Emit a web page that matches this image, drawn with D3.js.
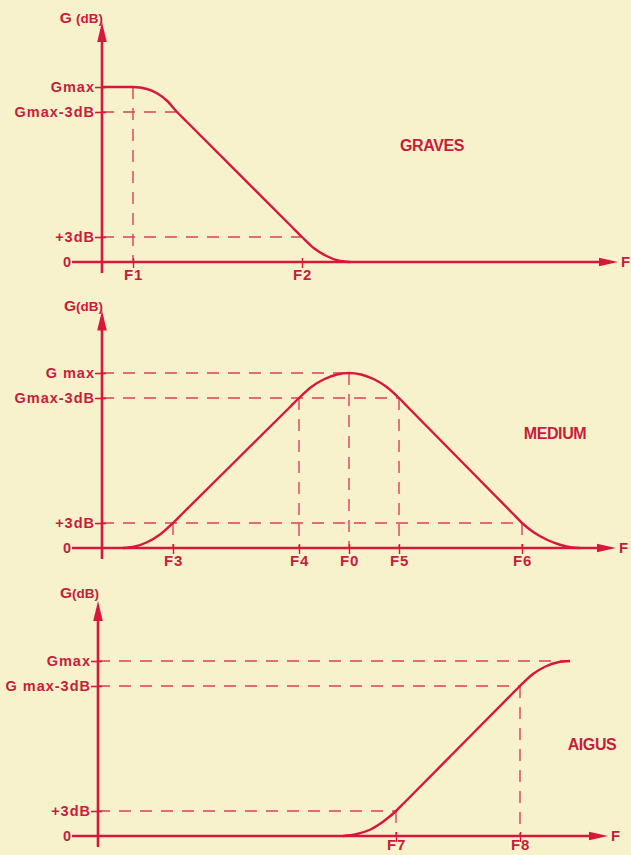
<!DOCTYPE html>
<html>
<head>
<meta charset="utf-8">
<script src="https://cdn.jsdelivr.net/npm/d3@7"></script>
<style>
  html, body { margin: 0; padding: 0; background: #f7f2cb; }
  svg { display: block; }
  text { font-family: "Liberation Sans", Arial, sans-serif; font-weight: bold; fill: #c81c3c; }
</style>
</head>
<body>
<svg id="chart" width="631" height="855"></svg>
<script>
// ---------------- DATA ----------------
// gain levels (schematic units: 0, +3dB, Gmax-3dB, Gmax)
const gainLevels = [0, 1, 6, 7];

const panelNames = ["GRAVES", "MEDIUM", "AIGUS"];

// y tick labels per panel
const gravesGainLabels = ["0", "+3dB", "Gmax-3dB", "Gmax"];
const mediumGainLabels = ["0", "+3dB", "Gmax-3dB", "G max"];
const aigusGainLabels  = ["0", "+3dB", "G max-3dB", "Gmax"];

// frequency ticks (position along F axis) and labels
const gravesFreqLabels = ["F1", "F2"];
const gravesFreqValues = [31, 200];
const gravesFreqGuideFrom = [7, null];      // gain level where vertical dashed guide starts

const mediumFreqLabels = ["F3", "F4", "F0", "F5", "F6"];
const mediumFreqValues = [71, 197, 247, 297, 420];
const mediumFreqGuideFrom = [1, 6, 7, 6, 1];

const aigusFreqLabels = ["F7", "F8"];
const aigusFreqValues = [298, 422];
const aigusFreqGuideFrom = [1, 6];

// horizontal dashed guides: gain level, frequency where it ends
const gravesGuideLevels = [6, 1];
const gravesGuideEnds   = [75, 200];
const mediumGuideLevels = [7, 6, 1];
const mediumGuideEnds   = [247, 297, 420];
const aigusGuideLevels  = [7, 6, 1];
const aigusGuideEnds    = [472, 422, 298];

// response curves (frequency, gain)
const gravesF = [0, 31, 45, 55, 65, 75, 85, 190, 200, 212, 224, 236, 248];
const gravesG = [7, 7, 6.92, 6.75, 6.45, 6, 5.6, 1.4, 1, 0.55, 0.25, 0.06, 0];

const mediumF = [21, 33, 45, 58, 71, 80, 188, 197, 210, 222, 235, 247, 259, 272, 284, 297, 306, 411, 420, 432, 445, 458, 470, 478];
const mediumG = [0, 0.06, 0.23, 0.54, 1, 1.36, 5.64, 6, 6.46, 6.75, 6.94, 7, 6.94, 6.75, 6.46, 6, 5.63, 1.37, 1, 0.62, 0.33, 0.13, 0.02, 0];

const aigusF = [245, 258, 272, 286, 298, 306, 414, 422, 435, 447, 460, 472];
const aigusG = [0, 0.07, 0.25, 0.6, 1, 1.32, 5.68, 6, 6.48, 6.77, 6.95, 7];

// ---------------- LAYOUT ----------------
const RED = "#d8173d";
const DASH = "#d9405c";

const panels = [
  { name: panelNames[0], ax: 102, ay: 262, xEnd: 516, xStart: -30, yTop: 9.6,
    gainLabels: gravesGainLabels, fl: gravesFreqLabels, fv: gravesFreqValues, fg: gravesFreqGuideFrom,
    hl: gravesGuideLevels, he: gravesGuideEnds, cf: gravesF, cg: gravesG,
    nameX: 432, nameY: 145, yLabelY: 23, ySpace: true, fy: 18 },
  { name: panelNames[1], ax: 102, ay: 548, xEnd: 514, xStart: -30, yTop: 9.5,
    gainLabels: mediumGainLabels, fl: mediumFreqLabels, fv: mediumFreqValues, fg: mediumFreqGuideFrom,
    hl: mediumGuideLevels, he: mediumGuideEnds, cf: mediumF, cg: mediumG,
    nameX: 555, nameY: 433, yLabelY: 311, ySpace: false, fy: 18 },
  { name: panelNames[2], ax: 98, ay: 836, xEnd: 510, xStart: -26, yTop: 9.4,
    gainLabels: aigusGainLabels, fl: aigusFreqLabels, fv: aigusFreqValues, fg: aigusFreqGuideFrom,
    hl: aigusGuideLevels, he: aigusGuideEnds, cf: aigusF, cg: aigusG,
    nameX: 592, nameY: 744, yLabelY: 598, ySpace: false, fy: 14 }
];

const svg = d3.select("#chart");
svg.append("rect").attr("width", 631).attr("height", 855).attr("fill", "#f7f2cb");

panels.forEach(p => {
  const x = d3.scaleLinear().domain([0, 520]).range([p.ax, p.ax + 520]);
  const y = d3.scaleLinear().domain([0, 7]).range([p.ay, p.ay - 175]);
  const g = svg.append("g");

  // horizontal dashed guides
  g.selectAll("line.hg").data(p.hl).enter().append("line")
    .attr("x1", x(0)).attr("x2", (d, i) => x(p.he[i]))
    .attr("y1", d => y(d)).attr("y2", d => y(d))
    .attr("stroke", DASH).attr("stroke-width", 1.4)
    .attr("stroke-dasharray", "12,9");

  // vertical dashed guides
  p.fv.forEach((fv, i) => {
    if (p.fg[i] === null) return;
    g.append("line")
      .attr("x1", x(fv)).attr("x2", x(fv))
      .attr("y1", y(p.fg[i])).attr("y2", y(0))
      .attr("stroke", DASH).attr("stroke-width", 1.4)
      .attr("stroke-dasharray", "12,9");
  });

  // x axis line + arrow
  g.append("line").attr("x1", x(p.xStart)).attr("x2", x(p.xEnd) - 16)
    .attr("y1", y(0)).attr("y2", y(0)).attr("stroke", RED).attr("stroke-width", 2.6);
  g.append("path")
    .attr("d", `M${x(p.xEnd)},${y(0)} L${x(p.xEnd) - 19},${y(0) - 4.2} L${x(p.xEnd) - 19},${y(0) + 4.2} Z`)
    .attr("fill", RED);
  g.append("text").attr("x", x(p.xEnd) + 3).attr("y", y(0)).attr("dy", "0.36em")
    .attr("font-size", 15).text("F");

  // y axis line + arrow
  g.append("line").attr("x1", x(0)).attr("x2", x(0))
    .attr("y1", y(0) + 11).attr("y2", y(p.yTop) + 16)
    .attr("stroke", RED).attr("stroke-width", 2.6);
  g.append("path")
    .attr("d", `M${x(0)},${y(p.yTop)} L${x(0) - 4.8},${y(p.yTop) + 20} L${x(0) + 4.8},${y(p.yTop) + 20} Z`)
    .attr("fill", RED);

  // y axis label
  const yl = g.append("text").attr("x", x(0) + 1).attr("y", p.yLabelY)
    .attr("text-anchor", "end").attr("font-size", 15.5);
  yl.append("tspan").text(p.ySpace ? "G " : "G");
  yl.append("tspan").attr("font-size", 13.5).text("(dB)");

  // y ticks via d3 axis
  const yAxis = d3.axisLeft(y).tickValues(gainLevels)
    .tickFormat((d, i) => p.gainLabels[i]).tickSizeInner(6).tickSizeOuter(0).tickPadding(1);
  const ya = g.append("g").attr("transform", `translate(${x(0)},0)`).call(yAxis);
  ya.select(".domain").remove();
  ya.selectAll(".tick line").attr("x1", 4).attr("x2", -7).attr("stroke", RED).attr("stroke-width", 1.6);
  ya.selectAll(".tick text")
    .attr("font-family", "Liberation Sans, Arial, sans-serif")
    .attr("font-size", 14.5).attr("font-weight", "bold")
    .attr("letter-spacing", 1.0)
    .attr("fill", "#c81c3c");
  // the "0" label sits left of where the F axis starts
  const zeroTick = ya.selectAll(".tick").filter(d => d === 0);
  zeroTick.select("line").remove();
  zeroTick.select("text").attr("x", x(p.xStart) - x(0));

  // x ticks via d3 axis
  const xAxis = d3.axisBottom(x).tickValues(p.fv)
    .tickFormat((d, i) => p.fl[i]).tickSizeInner(6).tickSizeOuter(0).tickPadding(5);
  const xa = g.append("g").attr("transform", `translate(0,${y(0)})`).call(xAxis);
  xa.select(".domain").remove();
  xa.selectAll(".tick line").attr("y1", -4).attr("y2", 6).attr("stroke", RED).attr("stroke-width", 1.4);
  xa.selectAll(".tick text")
    .attr("font-family", "Liberation Sans, Arial, sans-serif")
    .attr("font-size", 15).attr("font-weight", "bold")
    .attr("letter-spacing", 0.8)
    .attr("fill", "#c81c3c")
    .attr("y", p.fy).attr("dy", 0);

  // response curve
  const pts = p.cf.map((f, i) => [f, p.cg[i]]);
  const line = d3.line().x(d => x(d[0])).y(d => y(d[1])).curve(d3.curveMonotoneX);
  g.append("path").attr("d", line(pts)).attr("fill", "none")
    .attr("stroke", RED).attr("stroke-width", 2.4).attr("stroke-linejoin", "round");

  // panel name
  g.append("text").attr("x", p.nameX).attr("y", p.nameY).attr("dy", "0.36em")
    .attr("text-anchor", "middle").attr("font-size", 16).attr("letter-spacing", -0.4)
    .text(p.name);
});
</script>
</body>
</html>
